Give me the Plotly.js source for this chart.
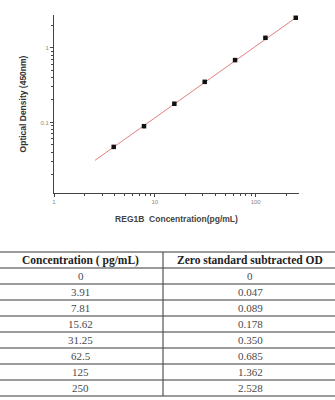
<!DOCTYPE html>
<html><head><meta charset="utf-8">
<script src="https://cdn.plot.ly/plotly-3.0.1.min.js"></script>
<style>html,body{margin:0;padding:0;background:#fff}#c{width:335px;height:400px}</style>
</head><body><div id="c"></div>
<script>
var concentration = [3.91, 7.81, 15.62, 31.25, 62.5, 125, 250];
var od = [0.047, 0.089, 0.178, 0.350, 0.685, 1.362, 2.528];
var fitX = [2.55, 250];
var fitY = [0.031, 2.53];
var tableConc = ["0", "3.91", "7.81", "15.62", "31.25", "62.5", "125", "250"];
var tableOD = ["0", "0.047", "0.089", "0.178", "0.350", "0.685", "1.362", "2.528"];
var headers = ["Concentration ( pg/mL)", "Zero standard subtracted OD"];
var xMajor = [1, 10, 100];
var xMajorText = ['1', '10', '100'];
var xMinor = [2,3,4,5,6,7,8,9,20,30,40,50,60,70,80,90,200];
var yMajor = [0.1, 1];
var yMajorText = ['0.1', '1'];
var yMinor = [0.02,0.03,0.04,0.05,0.06,0.07,0.08,0.09,0.2,0.3,0.4,0.5,0.6,0.7,0.8,0.9,2];

var H = 400, W = 335;
var tableTop = 252, headerH = 16, rowH = 16, colDiv = 163;
function py(pix){ return (H - pix) / H; }
function px(pix){ return pix / W; }

var shapes = [];
var annotations = [];
var nRows = tableConc.length;
var bottom = tableTop + headerH + nRows * rowH;
for (var i = 0; i <= nRows + 1; i++) {
  var yy = i === 0 ? tableTop : tableTop + headerH + (i - 1) * rowH;
  shapes.push({type:'line', xref:'paper', yref:'paper', x0:0, x1:1, y0:py(yy), y1:py(yy), line:{color:'#7a7a7a', width:1.5}});
}
shapes.push({type:'line', xref:'paper', yref:'paper', x0:px(colDiv), x1:px(colDiv), y0:py(tableTop), y1:py(bottom), line:{color:'#555', width:1.2}});

var c1 = px(colDiv / 2 - 1), c2 = px((colDiv + W) / 2 + 1);
var headFont = {family:'Liberation Serif, serif', size:11.5, color:'#222'};
var cellFont = {family:'Liberation Serif, serif', size:11, color:'#4a4a4a'};
annotations.push({xref:'paper', yref:'paper', x:c1, y:py(tableTop + headerH/2), text:'<b>'+headers[0]+'</b>', showarrow:false, xanchor:'center', yanchor:'middle', font:headFont});
annotations.push({xref:'paper', yref:'paper', x:c2, y:py(tableTop + headerH/2), text:'<b>'+headers[1]+'</b>', showarrow:false, xanchor:'center', yanchor:'middle', font:headFont});
for (var r = 0; r < nRows; r++) {
  var yc = py(tableTop + headerH + r * rowH + rowH/2);
  annotations.push({xref:'paper', yref:'paper', x:c1, y:yc, text:tableConc[r], showarrow:false, xanchor:'center', yanchor:'middle', font:cellFont});
  annotations.push({xref:'paper', yref:'paper', x:c2, y:yc, text:tableOD[r], showarrow:false, xanchor:'center', yanchor:'middle', font:cellFont});
}

var traces = [
  {type:'scatter', mode:'lines', x:fitX, y:fitY, line:{color:'#e08080', width:1}, hoverinfo:'skip', showlegend:false},
  {type:'scatter', mode:'markers', x:concentration, y:od, marker:{symbol:'square', size:4.5, color:'#111'}, showlegend:false}
];

var layout = {
  width:335, height:400, margin:{l:0,r:0,t:0,b:0}, paper_bgcolor:'#fff', plot_bgcolor:'#fff',
  showlegend:false, shapes:shapes, annotations:annotations,
  xaxis:{type:'log', domain:[54/335, 299/335], range:[0, 2.43], showline:true, linecolor:'#444', linewidth:1,
    showgrid:false, zeroline:false, ticks:'outside', ticklen:3, tickcolor:'#444',
    tickmode:'array', tickvals:xMajor, ticktext:xMajorText,
    minor:{tickmode:'array', tickvals:xMinor, ticks:'outside', ticklen:2, tickcolor:'#444'},
    tickfont:{family:'Liberation Sans, Arial', size:6, color:'#888'},
    title:{text:'<b>REG1B  Concentration(pg/mL)</b>', standoff:11, font:{family:'Liberation Sans, Arial', size:8.5, color:'#444'}}},
  yaxis:{type:'log', domain:[207/400, 385/400], range:[-1.946, 0.44], showline:true, linecolor:'#444', linewidth:1,
    showgrid:false, zeroline:false, ticks:'outside', ticklen:3, tickcolor:'#444',
    tickmode:'array', tickvals:yMajor, ticktext:yMajorText,
    minor:{tickmode:'array', tickvals:yMinor, ticks:'outside', ticklen:2, tickcolor:'#444'},
    tickfont:{family:'Liberation Sans, Arial', size:6, color:'#888'},
    title:{text:'<b>Optical Density (450nm)</b>', standoff:12, font:{family:'Liberation Sans, Arial', size:8.5, color:'#333'}}}
};
Plotly.newPlot('c', traces, layout, {staticPlot:true, displayModeBar:false});
</script></body></html>
